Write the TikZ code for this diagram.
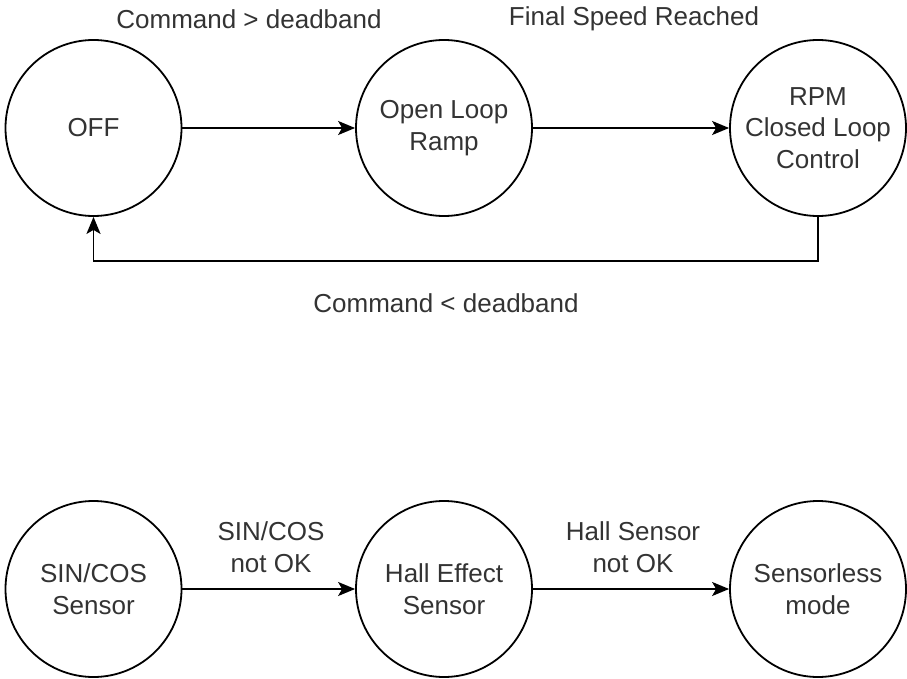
\documentclass[tikz,border=0pt]{standalone}
\usepackage{fontspec}
\setmainfont{Liberation Sans}
\usetikzlibrary{arrows.meta}
\tikzset{
  state/.style={draw, circle, line width=1.8pt, minimum size=176pt, inner sep=0pt,
    align=center, text=black!80, font=\fontsize{26}{31.5}\selectfont},
  lbl/.style={align=center, text=black!80, font=\fontsize{26}{31.5}\selectfont},
  arr/.style={line width=1.8pt, -{Stealth[length=17pt,width=14pt,inset=4pt]}}
}
\begin{document}
\begin{tikzpicture}[x=1pt,y=-1pt]
        \useasboundingbox (0,0) rectangle (907,679);
        % top row
        \node[state] (off) at (93.5,128) {OFF};
        \node[state] (ramp) at (444,128) {Open Loop\\Ramp};
        \node[state] (rpm) at (818,128) {RPM\\Closed Loop\\Control};
        \draw[arr] (off) -- (ramp);
        \draw[arr] (ramp) -- (rpm);
        \draw[arr] (rpm.south) -- ++(0,44) -| (off.south);
        \node[lbl] (up) at (249,19) {Command > deadband};
        \node[lbl] (fin) at (634,19) {Final Speed Reached};
        \node[lbl] (down) at (446,303) {Command < deadband};

        % bottom row
        \node[state] (sincos) at (93.5,589) {SIN/COS\\Sensor};
        \node[state] (hall) at (444,589) {Hall Effect\\Sensor};
        \node[state] (sless) at (818,589) {Sensorless\\mode};
        \draw[arr] (sincos) -- (hall);
        \draw[arr] (hall) -- (sless);
        \node[lbl] (scfail) at (271,547) {SIN/COS\\not OK};
        \node[lbl] (hfail) at (633,547) {Hall Sensor\\not OK};
\end{tikzpicture}
\end{document}
